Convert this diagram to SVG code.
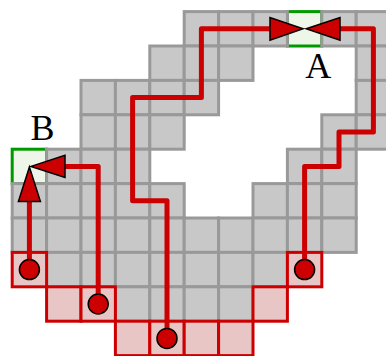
<svg xmlns="http://www.w3.org/2000/svg" width="386" height="356" viewBox="0 0 386 356">
<style>
.g{fill:#c8c8c8;stroke:#999999;stroke-width:3}
.gr{fill:#eef6ea;stroke:#009900;stroke-width:3}
.r{fill:#e8c6c6;stroke:#cc0000;stroke-width:3}
.p{fill:none;stroke:#cc0000;stroke-width:5;stroke-linejoin:round}
.ah{fill:#cc0000;stroke:#000000;stroke-width:1.5;stroke-linejoin:miter}
.dot{fill:#cc0000;stroke:#000000;stroke-width:1.5}
.lbl{font-family:"Liberation Serif","DejaVu Serif",serif;font-size:36px;fill:#000000;text-anchor:middle}
</style>
<rect width="386" height="356" fill="#ffffff"/>
<g id="node-A"><rect class="gr" x="287.4" y="11.6" width="34.4" height="34.4"/></g>
<g id="node-B"><rect class="gr" x="12.2" y="149.2" width="34.4" height="34.4"/></g>
<g id="grid">
<rect class="g" x="184.2" y="11.6" width="34.4" height="34.4"/>
<rect class="g" x="218.6" y="11.6" width="34.4" height="34.4"/>
<rect class="g" x="253" y="11.6" width="34.4" height="34.4"/>
<rect class="g" x="321.8" y="11.6" width="34.4" height="34.4"/>
<rect class="g" x="356.2" y="11.6" width="34.4" height="34.4"/>
<rect class="g" x="149.8" y="46" width="34.4" height="34.4"/>
<rect class="g" x="184.2" y="46" width="34.4" height="34.4"/>
<rect class="g" x="218.6" y="46" width="34.4" height="34.4"/>
<rect class="g" x="356.2" y="46" width="34.4" height="34.4"/>
<rect class="g" x="81" y="80.4" width="34.4" height="34.4"/>
<rect class="g" x="115.4" y="80.4" width="34.4" height="34.4"/>
<rect class="g" x="149.8" y="80.4" width="34.4" height="34.4"/>
<rect class="g" x="184.2" y="80.4" width="34.4" height="34.4"/>
<rect class="g" x="356.2" y="80.4" width="34.4" height="34.4"/>
<rect class="g" x="81" y="114.8" width="34.4" height="34.4"/>
<rect class="g" x="115.4" y="114.8" width="34.4" height="34.4"/>
<rect class="g" x="149.8" y="114.8" width="34.4" height="34.4"/>
<rect class="g" x="321.8" y="114.8" width="34.4" height="34.4"/>
<rect class="g" x="356.2" y="114.8" width="34.4" height="34.4"/>
<rect class="g" x="46.6" y="149.2" width="34.4" height="34.4"/>
<rect class="g" x="81" y="149.2" width="34.4" height="34.4"/>
<rect class="g" x="115.4" y="149.2" width="34.4" height="34.4"/>
<rect class="g" x="287.4" y="149.2" width="34.4" height="34.4"/>
<rect class="g" x="321.8" y="149.2" width="34.4" height="34.4"/>
<rect class="g" x="12.2" y="183.6" width="34.4" height="34.4"/>
<rect class="g" x="46.6" y="183.6" width="34.4" height="34.4"/>
<rect class="g" x="81" y="183.6" width="34.4" height="34.4"/>
<rect class="g" x="115.4" y="183.6" width="34.4" height="34.4"/>
<rect class="g" x="149.8" y="183.6" width="34.4" height="34.4"/>
<rect class="g" x="253" y="183.6" width="34.4" height="34.4"/>
<rect class="g" x="287.4" y="183.6" width="34.4" height="34.4"/>
<rect class="g" x="321.8" y="183.6" width="34.4" height="34.4"/>
<rect class="g" x="12.2" y="218" width="34.4" height="34.4"/>
<rect class="g" x="46.6" y="218" width="34.4" height="34.4"/>
<rect class="g" x="81" y="218" width="34.4" height="34.4"/>
<rect class="g" x="115.4" y="218" width="34.4" height="34.4"/>
<rect class="g" x="149.8" y="218" width="34.4" height="34.4"/>
<rect class="g" x="184.2" y="218" width="34.4" height="34.4"/>
<rect class="g" x="218.6" y="218" width="34.4" height="34.4"/>
<rect class="g" x="253" y="218" width="34.4" height="34.4"/>
<rect class="g" x="287.4" y="218" width="34.4" height="34.4"/>
<rect class="g" x="321.8" y="218" width="34.4" height="34.4"/>
<rect class="g" x="46.6" y="252.4" width="34.4" height="34.4"/>
<rect class="g" x="81" y="252.4" width="34.4" height="34.4"/>
<rect class="g" x="115.4" y="252.4" width="34.4" height="34.4"/>
<rect class="g" x="149.8" y="252.4" width="34.4" height="34.4"/>
<rect class="g" x="184.2" y="252.4" width="34.4" height="34.4"/>
<rect class="g" x="218.6" y="252.4" width="34.4" height="34.4"/>
<rect class="g" x="253" y="252.4" width="34.4" height="34.4"/>
<rect class="g" x="115.4" y="286.8" width="34.4" height="34.4"/>
<rect class="g" x="149.8" y="286.8" width="34.4" height="34.4"/>
<rect class="g" x="184.2" y="286.8" width="34.4" height="34.4"/>
<rect class="g" x="218.6" y="286.8" width="34.4" height="34.4"/>
</g>
<g id="boundary">
<rect class="r" x="12.2" y="252.4" width="34.4" height="34.4"/>
<rect class="r" x="287.4" y="252.4" width="34.4" height="34.4"/>
<rect class="r" x="46.6" y="286.8" width="34.4" height="34.4"/>
<rect class="r" x="81" y="286.8" width="34.4" height="34.4"/>
<rect class="r" x="253" y="286.8" width="34.4" height="34.4"/>
<rect class="r" x="115.4" y="321.2" width="34.4" height="34.4"/>
<rect class="r" x="149.8" y="321.2" width="34.4" height="34.4"/>
<rect class="r" x="184.2" y="321.2" width="34.4" height="34.4"/>
<rect class="r" x="218.6" y="321.2" width="34.4" height="34.4"/>
</g>
<g id="connectors">
<path class="p" d="M29.4,269.6 V200"/>
<path class="p" d="M98.2,304 V166.4 H64"/>
<path class="p" d="M167,338.4 V200.8 H132.6 V97.6 H201.4 V28.8 H271"/>
<path class="p" d="M304.6,269.6 V166.4 H339 V132 H373.4 V28.8 H339"/>
<polygon class="ah" points="29.4,167 40.4,201.5 18.4,201.5"/>
<polygon class="ah" points="31,166.4 65,155.4 65,177.4"/>
<polygon class="ah" points="303,28.8 270,17.5 270,40.1"/>
<polygon class="ah" points="306.2,28.8 340,17.5 340,40.1"/>
</g>
<g id="start-1"><circle class="dot" cx="29.4" cy="269.6" r="10"/></g>
<g id="start-2"><circle class="dot" cx="98.2" cy="304" r="10"/></g>
<g id="start-3"><circle class="dot" cx="167" cy="338.4" r="10"/></g>
<g id="start-4"><circle class="dot" cx="304.6" cy="269.6" r="10"/></g>
<g id="label-A"><text class="lbl" x="318.3" y="78">A</text></g>
<g id="label-B"><text class="lbl" x="42.5" y="140">B</text></g>
</svg>
